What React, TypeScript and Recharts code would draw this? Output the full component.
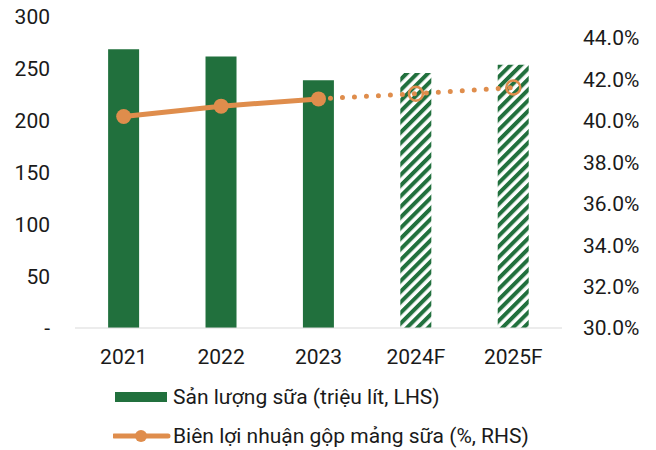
import React from 'react';
import { ComposedChart, Bar, Line, Cell, XAxis, YAxis } from 'recharts';

// Chart data
const years = ['2021', '2022', '2023', '2024F', '2025F'];
const milkVolume = [269, 262, 239, 246, 254]; // triệu lít (LHS)
const grossMargin = [40.2, 40.7, 41.05, 41.3, 41.6]; // % (RHS)
const isForecast = [false, false, false, true, true];

const leftTicks = [0, 50, 100, 150, 200, 250, 300];
const rightTicks = [30, 32, 34, 36, 38, 40, 42, 44];

const GREEN = '#21703D';
const ORANGE = '#DF8D4C';
const FONT = 'Roboto, "Noto Sans", sans-serif';

const data = years.map((year, i) => ({
    year,
    volume: milkVolume[i],
    actual: isForecast[i] ? null : grossMargin[i],
    // forecast segment starts from the last actual point
    forecast: i >= 2 ? grossMargin[i] : null,
    forecastFlag: isForecast[i],
}));

const tickStyle = { fontSize: 21, fill: '#1a1a1a', fontFamily: FONT };

// hollow marker only on forecast years
const ForecastDot = (props: any) => {
    const { cx, cy, payload, index } = props;
    if (!payload || !payload.forecastFlag || cx == null || cy == null) return <g key={index} />;
    return <circle key={index} cx={cx} cy={cy} r={7} fill="none" stroke={ORANGE} strokeWidth={2.5} />;
};

const Legend = () => (
    <div style={{ position: 'absolute', left: 113, top: 383, fontFamily: FONT, fontSize: 21, color: '#1a1a1a' }}>
        <div style={{ display: 'flex', alignItems: 'center', height: 28 }}>
            <svg width={60} height={12}>
                <rect x={2} y={1} width={52} height={10} fill={GREEN} />
            </svg>
            <span>Sản lượng sữa (triệu lít, LHS)</span>
        </div>
        <div style={{ display: 'flex', alignItems: 'center', height: 28, marginTop: 11 }}>
            <svg width={60} height={14}>
                <line x1={1} y1={7} x2={55} y2={7} stroke={ORANGE} strokeWidth={5} strokeLinecap="round" />
                <circle cx={28} cy={7} r={6} fill={ORANGE} />
            </svg>
            <span>Biên lợi nhuận gộp mảng sữa (%, RHS)</span>
        </div>
    </div>
);

const App: React.FC = () => {
    return (
        <div style={{ position: 'absolute', left: 0, top: 0, width: 656, height: 450, background: '#fff' }}>
            <ComposedChart
                width={656}
                height={450}
                data={data}
                margin={{ top: 17, right: 14, bottom: 82, left: 15 }}
                barCategoryGap="34%"
            >
                <defs>
                    <pattern id="hatch" patternUnits="userSpaceOnUse" width={7.5} height={7.5} patternTransform="rotate(45)">
                        <rect x={0} y={0} width={7.5} height={7.5} fill="#fff" />
                        <rect x={0} y={0} width={4} height={7.5} fill={GREEN} />
                    </pattern>
                </defs>

                <XAxis
                    dataKey="year"
                    tick={tickStyle}
                    tickLine={false}
                    axisLine={{ stroke: '#D9D9D9', strokeWidth: 1 }}
                    tickMargin={15}
                    height={40}
                    interval={0}
                />
                <YAxis
                    yAxisId="left"
                    orientation="left"
                    domain={[0, 300]}
                    ticks={leftTicks}
                    tickFormatter={(v: number) => (v === 0 ? '-' : String(v))}
                    tick={tickStyle}
                    tickLine={false}
                    axisLine={false}
                    tickMargin={19}
                    width={60}
                />
                <YAxis
                    yAxisId="right"
                    orientation="right"
                    domain={[30, 45]}
                    ticks={rightTicks}
                    tickFormatter={(v: number) => v.toFixed(1) + '%'}
                    tick={tickStyle}
                    tickLine={false}
                    axisLine={false}
                    tickMargin={15}
                    width={80}
                    allowDataOverflow
                />

                {/* Milk volume bars */}
                <Bar yAxisId="left" dataKey="volume" isAnimationActive={false}>
                    {data.map((d, i) => (
                        <Cell key={i} fill={d.forecastFlag ? 'url(#hatch)' : GREEN} />
                    ))}
                </Bar>

                {/* Forecast margin - dotted */}
                <Line
                    yAxisId="right"
                    dataKey="forecast"
                    stroke={ORANGE}
                    strokeWidth={5}
                    strokeDasharray="0 12"
                    strokeLinecap="round"
                    dot={<ForecastDot />}
                    activeDot={false}
                    connectNulls={false}
                    isAnimationActive={false}
                />

                {/* Actual margin - solid */}
                <Line
                    yAxisId="right"
                    dataKey="actual"
                    stroke={ORANGE}
                    strokeWidth={5}
                    dot={{ r: 7.5, fill: ORANGE, stroke: 'none' }}
                    activeDot={false}
                    connectNulls={false}
                    isAnimationActive={false}
                />
            </ComposedChart>
            <Legend />
        </div>
    );
};

export default App;
